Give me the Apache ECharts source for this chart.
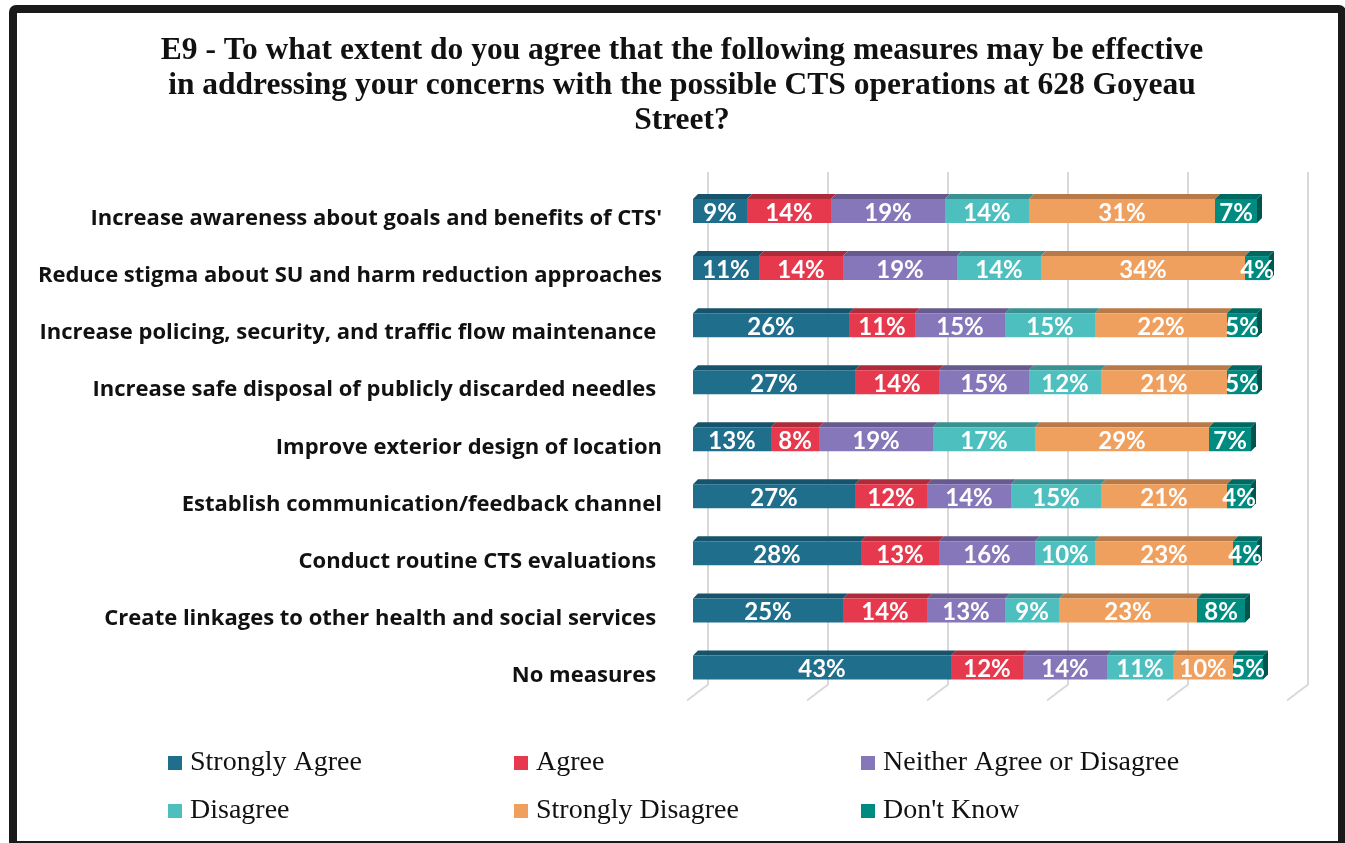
<!DOCTYPE html>
<html>
<head>
<meta charset="utf-8">
<script src="https://cdn.jsdelivr.net/npm/echarts@6/dist/echarts.min.js"></script>
<style>
  html, body { margin: 0; padding: 0; background: #fff; }
  #chart { width: 1345px; height: 843px; }
</style>
</head>
<body>
<div id="chart"></div>
<script>
// categories (top to bottom)
const measures = [
  "Increase awareness about goals and benefits of CTS'",
  'Reduce stigma about SU and harm reduction approaches',
  'Increase policing, security, and traffic flow maintenance ',
  'Increase safe disposal of publicly discarded needles ',
  'Improve exterior design of location',
  'Establish communication/feedback channel',
  'Conduct routine CTS evaluations ',
  'Create linkages to other health and social services ',
  'No measures '
];

// response shares in %
const stronglyAgree    = [9, 11, 26, 27, 13, 27, 28, 25, 43];
const agree            = [14, 14, 11, 14, 8, 12, 13, 14, 12];
const neither          = [19, 19, 15, 15, 19, 14, 16, 13, 14];
const disagree         = [14, 14, 15, 12, 17, 15, 10, 9, 11];
const stronglyDisagree = [31, 34, 22, 21, 29, 21, 23, 23, 10];
const dontKnow         = [7, 4, 5, 5, 7, 4, 4, 8, 5];

const xTicks = [0, 20, 40, 60, 80, 100];

const responses = [
  { name: 'Strongly Agree', values: stronglyAgree, color: '#1F6E8C', top: '#17536a' },
  { name: 'Agree', values: agree, color: '#E6394E', top: '#ae2b3b' },
  { name: 'Neither Agree or Disagree', values: neither, color: '#8577B9', top: '#665a8e' },
  { name: 'Disagree', values: disagree, color: '#4EBFBF', top: '#3b9191' },
  { name: 'Strongly Disagree', values: stronglyDisagree, color: '#F0A05E', top: '#b77a48' },
  { name: "Don't Know", values: dontKnow, color: '#008B80', top: '#006a62' }
];

const BAR_H = 24;   // front face height
const DEPTH = 5;    // 3d depth

// running start of each segment
const starts = responses.map(() => []);
measures.forEach((m, i) => {
  let acc = 0;
  responses.forEach((r, k) => {
    starts[k][i] = acc;
    acc += r.values[i];
  });
});

function segmentRenderer(resp, isLast) {
  return function (params, api) {
    const x0 = api.value(0), ci = api.value(1), v = api.value(2);
    const p0 = api.coord([x0, ci]);
    const p1 = api.coord([x0 + v, ci]);
    const yt = p0[1] - BAR_H / 2;
    const children = [
      {
        type: 'polygon',
        shape: { points: [[p0[0], yt], [p0[0] + DEPTH, yt - DEPTH], [p1[0] + DEPTH, yt - DEPTH], [p1[0], yt]] },
        style: { fill: resp.top }
      },
      {
        type: 'rect',
        shape: { x: p0[0], y: yt, width: p1[0] - p0[0], height: BAR_H },
        style: { fill: resp.color }
      }
    ];
    if (isLast) {
      children.push({
        type: 'polygon',
        shape: { points: [[p1[0], yt], [p1[0] + DEPTH, yt - DEPTH], [p1[0] + DEPTH, yt + BAR_H - DEPTH], [p1[0], yt + BAR_H]] },
        style: { fill: '#00564f' }
      });
    }
    return { type: 'group', children: children };
  };
}

const seriesList = [];

// back wall grid lines with the 3d floor edge
seriesList.push({
  type: 'custom',
  silent: true,
  z: 1,
  data: xTicks.map(t => [t]),
  renderItem: function (params, api) {
    const v = api.value(0);
    const pTop = api.coord([v, 0]);
    const pBot = api.coord([v, measures.length - 1]);
    const x = pTop[0] + 15;
    return {
      type: 'polyline',
      shape: { points: [[x, pTop[1] - 39], [x, pBot[1] + 17], [x - 21, pBot[1] + 33]] },
      style: { stroke: '#d9d9d9', lineWidth: 2, fill: null }
    };
  }
});

responses.forEach((r, k) => {
  seriesList.push({
    name: r.name,
    type: 'custom',
    z: 2,
    itemStyle: { color: r.color },
    data: measures.map((m, i) => [starts[k][i], i, r.values[i]]),
    renderItem: segmentRenderer(r, k === responses.length - 1)
  });
});

// value labels on top of everything
const labelData = [];
responses.forEach((r, k) => {
  measures.forEach((m, i) => labelData.push([starts[k][i], i, r.values[i]]));
});
seriesList.push({
  type: 'custom',
  silent: true,
  z: 5,
  data: labelData,
  renderItem: function (params, api) {
    const x0 = api.value(0), ci = api.value(1), v = api.value(2);
    const p0 = api.coord([x0, ci]);
    const p1 = api.coord([x0 + v, ci]);
    return {
      type: 'text',
      style: {
        x: (p0[0] + p1[0]) / 2,
        y: p0[1] + 2,
        text: v + '%',
        fill: '#ffffff',
        font: 'bold 24px Lato',
        align: 'center',
        verticalAlign: 'middle'
      }
    };
  }
});

const legendBase = {
  orient: 'vertical',
  top: 748,
  padding: 0,
  itemWidth: 14,
  itemHeight: 14,
  itemGap: 18,
  icon: 'rect',
  selectedMode: false,
  textStyle: {
    fontFamily: 'Liberation Serif',
    fontSize: 28,
    color: '#111',
    lineHeight: 30,
    padding: [0, 0, 0, 3]
  }
};

const chart = echarts.init(document.getElementById('chart'));
chart.setOption({
  backgroundColor: '#ffffff',
  animation: false,
  title: {
    text: 'E9 - To what extent do you agree that the following measures may be effective\nin addressing your concerns with the possible CTS operations at 628 Goyeau\nStreet?',
    left: 677,
    top: 28,
    textAlign: 'center',
    textStyle: {
      fontFamily: 'Liberation Serif',
      fontWeight: 'bold',
      fontSize: 31.5,
      lineHeight: 35,
      color: '#111'
    }
  },
  legend: [
    Object.assign({}, legendBase, { left: 168, data: ['Strongly Agree', 'Disagree'] }),
    Object.assign({}, legendBase, { left: 514, data: ['Agree', 'Strongly Disagree'] }),
    Object.assign({}, legendBase, { left: 861, data: ['Neither Agree or Disagree', "Don't Know"] })
  ],
  grid: {
    left: 693,
    top: 182.5,
    width: 600,
    height: 513.5
  },
  xAxis: {
    type: 'value',
    min: 0,
    max: 100,
    interval: 20,
    axisLine: { show: false },
    axisTick: { show: false },
    axisLabel: { show: false },
    splitLine: { show: false }
  },
  yAxis: {
    type: 'category',
    inverse: true,
    data: measures,
    axisLine: { show: false },
    axisTick: { show: false },
    splitLine: { show: false },
    axisLabel: {
      margin: 31,
      fontFamily: 'Open Sans',
      fontWeight: 'bold',
      fontSize: 22,
      color: '#111',
      verticalAlign: 'top',
      lineHeight: 16
    }
  },
  graphic: [{
    type: 'rect',
    z: 100,
    silent: true,
    shape: { x: 13, y: 9, width: 1329, height: 836, r: 3 },
    style: { fill: null, stroke: '#1a1a1a', lineWidth: 8 }
  }],
  series: seriesList
});
</script>
</body>
</html>
